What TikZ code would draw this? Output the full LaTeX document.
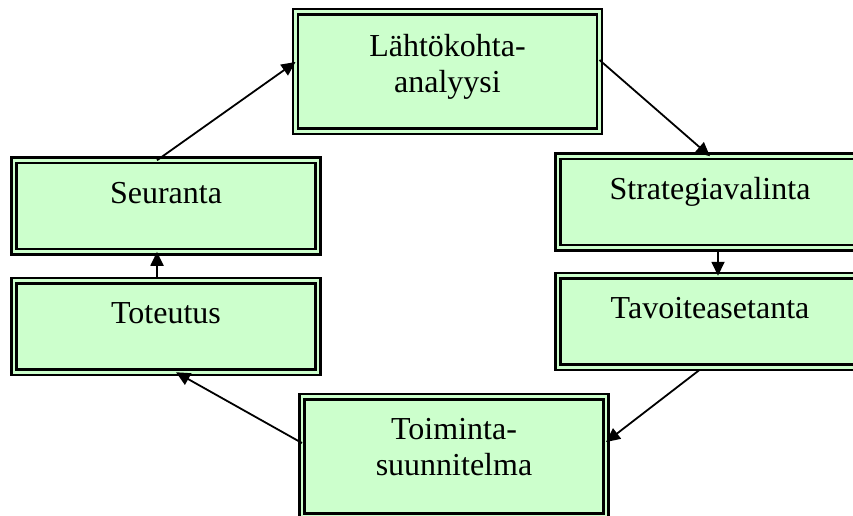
\documentclass[tikz,border=0pt]{standalone}
\usepackage{fontspec}
\setmainfont{Liberation Serif}
\usepackage{tikz}
\usetikzlibrary{arrows.meta,positioning}
\definecolor{mint}{HTML}{CCFFCC}
\tikzset{
    every picture/.style={line join=miter},
    phasebox/.style={draw=black,fill=mint,line width=2.6pt,double=mint,double distance=2.6pt,
      minimum width=304pt,minimum height=91.5pt,inner sep=0pt,outer sep=0pt},
    phasebig/.style={phasebox,minimum height=119.5pt},
    phasetext/.style={font=\fontsize{32}{36}\selectfont,align=center,inner sep=0pt,anchor=base},
    cyclearrow/.style={-{Triangle[length=14pt,width=13pt]},draw=black,line width=1.8pt}
}

\begin{document}
\begin{tikzpicture}[x=1pt,y=-1pt]
  \useasboundingbox (0,0) rectangle (853,515);
  \clip (0,0) rectangle (853,515);
  % boxes
  \node[phasebig] (lahto) at (447.5,71.5) {};
  \node[phasebox] (strat) at (710,202) {};
  \node[phasebox] (tavo) at (710,321.5) {};
  \node[phasebig] (toim) at (454,456.5) {};
  \node[phasebox] (tot) at (166,326.5) {};
  \node[phasebox] (seur) at (166,206) {};
  % texts (base = last line)
  \node[phasetext] (lahto-t) at ([yshift=-81pt]lahto.north) {Lähtökohta-\\analyysi};
  \node[phasetext] (strat-t) at ([yshift=-43pt]strat.north) {Strategiavalinta};
  \node[phasetext] (tavo-t) at ([yshift=-43pt]tavo.north) {Tavoiteasetanta};
  \node[phasetext] (toim-t) at ([yshift=-79pt]toim.north) {Toiminta-\\suunnitelma};
  \node[phasetext] (tot-t) at ([yshift=-43pt]tot.north) {Toteutus};
  \node[phasetext] (seur-t) at ([yshift=-43pt]seur.north) {Seuranta};
  % arrows
  \draw[cyclearrow] ([xshift=-9pt]seur.north) -- ([yshift=9.5pt]lahto.west);
  \draw[cyclearrow] ([yshift=11.5pt]lahto.east) -- (strat.north);
  \draw[cyclearrow,shorten <=4pt] ([xshift=8pt]strat.south) -- ([xshift=8pt]tavo.north);
  \draw[cyclearrow,shorten <=5pt] ([xshift=-7pt]tavo.south) -- ([yshift=14.5pt]toim.east);
  \draw[cyclearrow] ([yshift=13.5pt]toim.west) -- ([xshift=10pt]tot.south);
  \draw[cyclearrow,shorten <=4pt] ([xshift=-9pt]tot.north) -- ([xshift=-9pt]seur.south);
\end{tikzpicture}
\end{document}
